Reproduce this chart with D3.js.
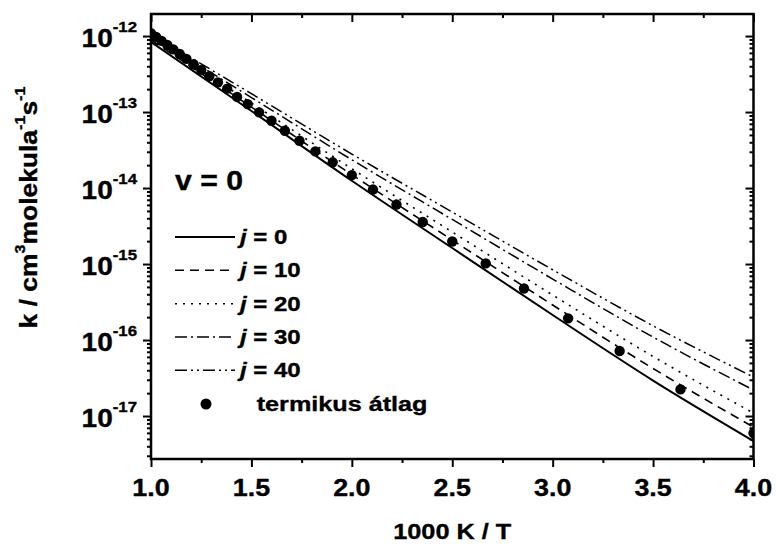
<!DOCTYPE html>
<html><head><meta charset="utf-8">
<script src="https://cdn.jsdelivr.net/npm/d3@7"></script>
<style>
body{margin:0;background:#fff}
svg{display:block}
text{font-family:"Liberation Sans",Arial,Helvetica,sans-serif;font-weight:bold;fill:#000;stroke:#000;stroke-width:0.35px}
</style>
</head><body><svg id="c" width="777" height="545"></svg>
<script>
// ---- data ----
const xInv = [1.0, 1.5, 2.0, 2.5, 3.0, 3.5, 4.0];           // 1000 K / T
const kJ0  = [8.34e-13, 1.031e-13, 1.248e-14, 1.624e-15, 2.133e-16, 2.93e-17, 4.69e-18];
const kJ10 = [8.86e-13, 1.163e-13, 1.50e-14, 2.07e-15, 2.89e-16, 4.22e-17, 7.16e-18];
const kJ20 = [9.41e-13, 1.313e-13, 1.795e-14, 2.64e-15, 3.91e-16, 6.07e-17, 1.094e-17];
const kJ30 = [1.0e-12, 1.552e-13, 2.355e-14, 3.86e-15, 6.35e-16, 1.094e-16, 2.20e-17];
const kJ40 = [1.062e-12, 1.742e-13, 2.80e-14, 4.83e-15, 8.41e-16, 1.538e-16, 3.26e-17];
const jLabels = ["0", "10", "20", "30", "40"];
const thermalT = [1000, 975, 950, 925, 900, 875, 850, 825, 800, 775, 750, 725, 700, 675, 650, 625,
                  600, 575, 550, 525, 500, 475, 450, 425, 400, 375, 350, 325, 300, 275, 250];
const thermalK = [1.09e-12, 9.76e-13, 8.64e-13, 7.64e-13, 6.68e-13, 5.80e-13, 5.00e-13, 4.26e-13,
                  3.59e-13, 2.96e-13, 2.46e-13, 2.03e-13, 1.58e-13, 1.27e-13, 9.9e-14, 7.69e-14,
                  5.68e-14, 4.19e-14, 3.04e-14, 2.18e-14, 1.48e-14, 9.55e-15, 6.06e-15, 3.57e-15,
                  1.98e-15, 1.02e-15, 4.76e-16, 1.93e-16, 7.17e-17, 2.24e-17, 5.97e-18];
const xTicks = [1.0, 1.5, 2.0, 2.5, 3.0, 3.5, 4.0];
const yDecades = [-17, -16, -15, -14, -13, -12];
const xTitle = "1000 K / T";
const legendTitle = "v = 0";
const thermalLabel = "termikus átlag";

// ---- layout ----
const L = 151, R = 753.5, T = 14, B = 459;
const svg = d3.select("#c");
const x = d3.scaleLinear().domain([1, 4]).range([L, R]);
const y = d3.scaleLog().domain([2.72e-18, 1.95e-12]).range([B, T]);

svg.append("defs").append("clipPath").attr("id", "clip")
  .append("rect").attr("x", L).attr("y", T).attr("width", R - L).attr("height", B - T);

const series = [
  {k: kJ0,  dash: null,               w: 2},
  {k: kJ10, dash: "9,6",              w: 1.6},
  {k: kJ20, dash: "2,6",              w: 1.6},
  {k: kJ30, dash: "12,4,2,4",         w: 1.5},
  {k: kJ40, dash: "12,4,2,4,2,4",     w: 1.5}
];

const line = d3.line().x(d => x(d[0])).y(d => y(d[1])).curve(d3.curveMonotoneX);
const plot = svg.append("g").attr("clip-path", "url(#clip)");
series.forEach(s => {
  plot.append("path")
    .datum(xInv.map((v, i) => [v, s.k[i]]))
    .attr("d", line).attr("fill", "none").attr("stroke", "#000")
    .attr("stroke-width", s.w).attr("stroke-dasharray", s.dash);
});
plot.selectAll("circle.th").data(thermalT.map((t, i) => [1000 / t, thermalK[i]]))
  .enter().append("circle").attr("class", "th")
  .attr("cx", d => x(d[0])).attr("cy", d => y(d[1])).attr("r", 5.2).attr("fill", "#000");

// ---- axes ----
const minorVals = [];
yDecades.forEach(e => { for (let m = 2; m <= 9; m++) { const v = m * Math.pow(10, e); if (v >= y.domain()[0] && v <= y.domain()[1]) minorVals.push(v); } });
for (let m = 2; m <= 9; m++) { const v = m * 1e-18; if (v >= y.domain()[0]) minorVals.push(v); }
const majorVals = yDecades.map(e => Math.pow(10, e));
const xMinor = [1.25, 1.75, 2.25, 2.75, 3.25, 3.75];

function styleAxis(g) {
  g.select(".domain").remove();
  g.selectAll("line").attr("stroke", "#000").attr("stroke-width", 2);
  g.selectAll("text").remove();
}
// bottom (outward)
svg.append("g").attr("transform", `translate(0,${B})`).call(d3.axisBottom(x).tickValues(xTicks).tickSize(8)).call(styleAxis);
svg.append("g").attr("transform", `translate(0,${B})`).call(d3.axisBottom(x).tickValues(xMinor).tickSize(4)).call(styleAxis);
// top (inward)
svg.append("g").attr("transform", `translate(0,${T})`).call(d3.axisBottom(x).tickValues(xTicks).tickSize(8)).call(styleAxis);
svg.append("g").attr("transform", `translate(0,${T})`).call(d3.axisBottom(x).tickValues(xMinor).tickSize(4)).call(styleAxis);
// left (outward)
svg.append("g").attr("transform", `translate(${L},0)`).call(d3.axisLeft(y).tickValues(majorVals).tickSize(8)).call(styleAxis);
svg.append("g").attr("transform", `translate(${L},0)`).call(d3.axisLeft(y).tickValues(minorVals).tickSize(4)).call(styleAxis);
// right (inward)
svg.append("g").attr("transform", `translate(${R},0)`).call(d3.axisLeft(y).tickValues(majorVals).tickSize(8)).call(styleAxis);
svg.append("g").attr("transform", `translate(${R},0)`).call(d3.axisLeft(y).tickValues(minorVals).tickSize(4)).call(styleAxis);

svg.append("rect").attr("x", L).attr("y", T).attr("width", R - L).attr("height", B - T)
  .attr("fill", "none").attr("stroke", "#000").attr("stroke-width", 2.5);

function stext(px, py, anchor, sx, rot) {
  return svg.append("text")
    .attr("transform", `translate(${px},${py})` + (rot ? ` rotate(${rot})` : "") + ` scale(${sx},1)`)
    .attr("text-anchor", anchor);
}

// x tick labels
xTicks.forEach(v => {
  stext(x(v), 495.5, "middle", 1.12).attr("font-size", 24).text(v.toFixed(1));
});
// y tick labels
yDecades.forEach(e => {
  const t = stext(137, y(Math.pow(10, e)) + 11, "end", 1.12);
  t.append("tspan").attr("font-size", 25).text("10");
  t.append("tspan").attr("font-size", 15).attr("dy", -15).text(String(e));
});

// axis titles
stext((L + R) / 2, 539, "middle", 1.15).attr("font-size", 22).text(xTitle);
const yt = stext(37, 207.5, "middle", 1.15, -90).attr("font-size", 23);
yt.append("tspan").text("k / cm");
yt.append("tspan").attr("font-size", 14).attr("dy", -12).text("3");
yt.append("tspan").attr("dy", 12).text("molekula");
yt.append("tspan").attr("font-size", 14).attr("dy", -12).text("-1");
yt.append("tspan").attr("dy", 12).text("s");
yt.append("tspan").attr("font-size", 14).attr("dy", -12).text("-1");

// legend
stext(175, 190, "start", 1.12).attr("font-size", 27).text(legendTitle);
const rowY = [244, 277.3, 310.7, 344, 377.3];
series.forEach((s, i) => {
  svg.append("line").attr("x1", 175).attr("x2", 235).attr("y1", rowY[i] - 7).attr("y2", rowY[i] - 7)
    .attr("stroke", "#000").attr("stroke-width", s.w).attr("stroke-dasharray", s.dash);
  const t = stext(240, rowY[i], "start", 1.2).attr("font-size", 20);
  t.append("tspan").attr("font-style", "italic").text("j");
  t.append("tspan").text(" = " + jLabels[i]);
});
svg.append("circle").attr("cx", 206).attr("cy", 404).attr("r", 5.5).attr("fill", "#000");
stext(256.7, 410.5, "start", 1.2).attr("font-size", 21).text(thermalLabel);
</script>
</body></html>
